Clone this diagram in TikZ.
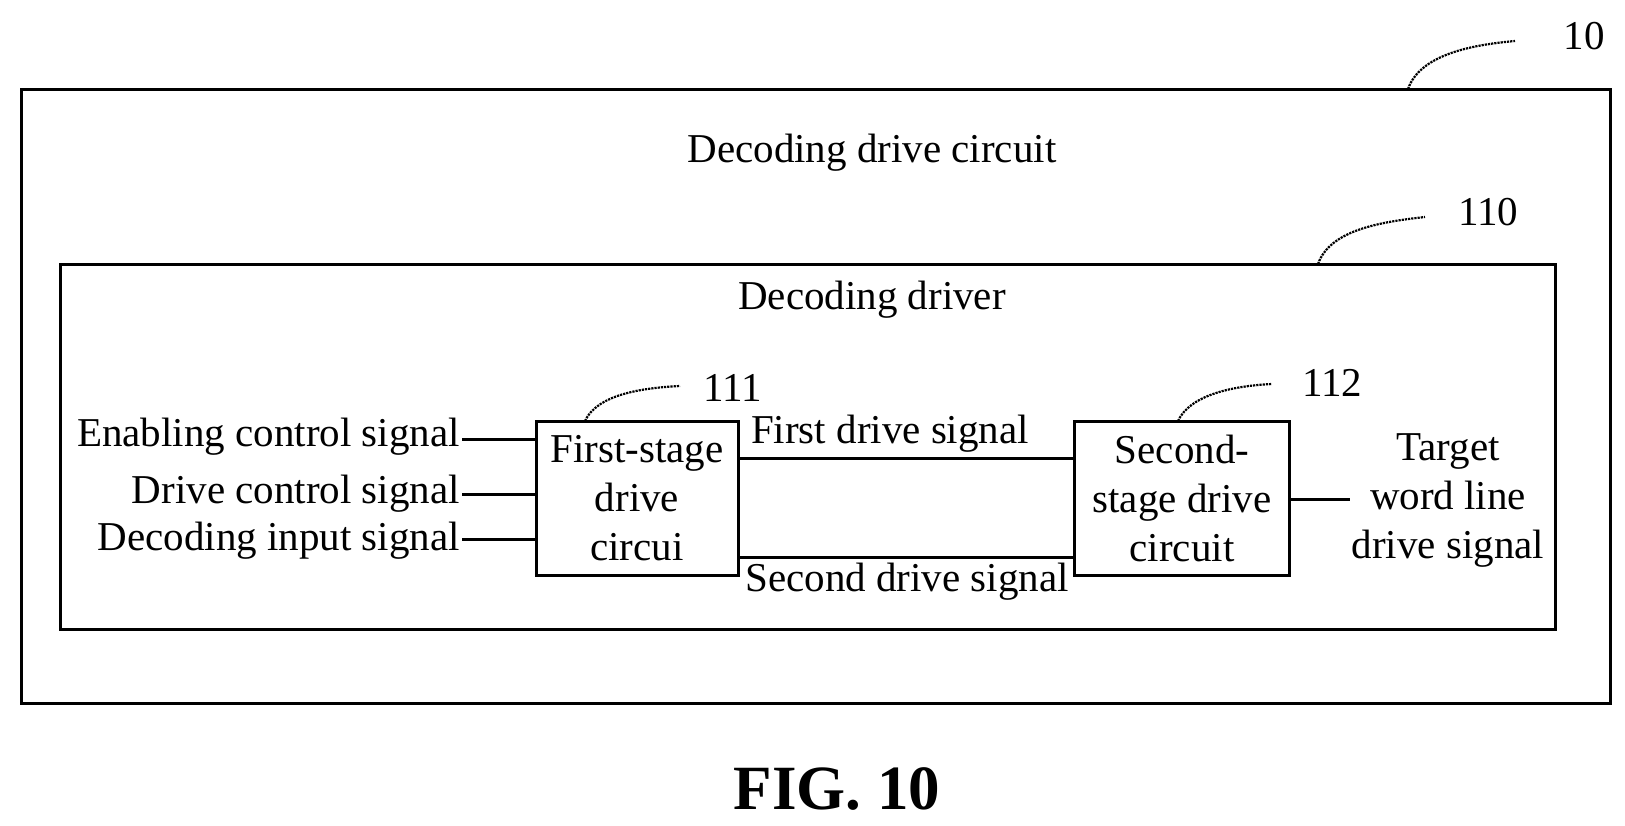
\documentclass[tikz,border=0pt]{standalone}
\usepackage{fontspec}
\setmainfont{Liberation Serif}
\usetikzlibrary{positioning}
\tikzset{
  blk/.style={draw, line width=3pt, minimum width=202pt, minimum height=154pt, align=center, inner sep=0pt},
  wire/.style={line width=3pt},
  lead/.style={densely dotted, line width=2.2pt},
  txt/.style={inner sep=2pt, align=center}
}
\begin{document}
\begin{tikzpicture}[x=1pt,y=-1pt,font=\fontsize{41}{49}\selectfont]
\useasboundingbox (0,0) rectangle (1625,825);
% frames
\draw[line width=3pt] (21,89) rectangle (1610,703);
\draw[line width=3pt] (60,264) rectangle (1555,629);
\node[txt] (outer) at (872,153) {Decoding drive circuit};
\node[txt] (inner) at (872,300) {Decoding driver};
% stages
\node[blk] (first) at (637,498) {First-stage\\drive\\circui};
\node[blk, minimum width=215pt] (second) at (1182,498) {Second-\\stage drive\\circuit};
% inputs
\node[txt, anchor=east] (en) at (462,437) {Enabling control signal};
\node[txt, anchor=east] (dc) at (462,494) {Drive control signal};
\node[txt, anchor=east] (di) at (462,541) {Decoding input signal};
\draw[wire] (en.east |- 0,439) -- (first.west |- 0,439);
\draw[wire] (dc.east) -- (first.west |- dc.east);
\draw[wire] (di.east |- 0,539) -- (first.west |- 0,539);
% links
\draw[wire] (first.east |- 0,458) -- (second.west |- 0,458);
\draw[wire] (first.east |- 0,557) -- (second.west |- 0,557);
\node[txt] (s1) at (890,434) {First drive signal};
\node[txt] (s2) at (907,582) {Second drive signal};
% output
\node[txt] (out) at (1448,500) {Target\\word line\\drive signal};
\draw[wire] (second.east |- 0,499) -- (1350,499);
% references
\node (r10) at (1584,36) {10};
\node (r110) at (1488,212) {110};
\node (r111) at (733,388) {111};
\node (r112) at (1332,383) {112};
\draw[lead] (1408,89) .. controls (1420,55) and (1470,45) .. (1515,41);
\draw[lead] (1318,264) .. controls (1330,230) and (1380,222) .. (1425,217);
\draw[lead] (585,421) .. controls (597,395) and (640,388) .. (680,386);
\draw[lead] (1178,421) .. controls (1190,395) and (1232,386) .. (1272,384);
\node[font=\fontsize{63}{70}\selectfont\bfseries] (fig) at (837,789) {FIG. 10};
\end{tikzpicture}
\end{document}
